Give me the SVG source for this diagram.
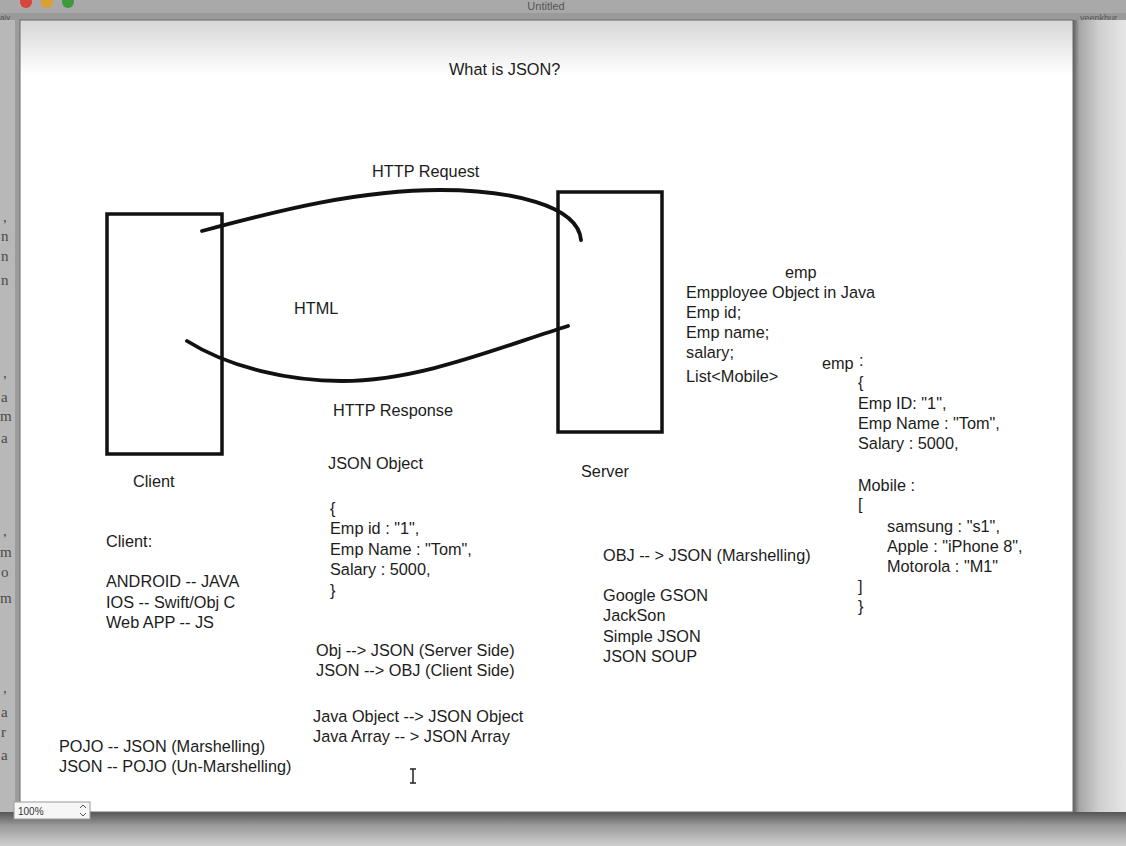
<svg xmlns="http://www.w3.org/2000/svg" width="1126" height="846" viewBox="0 0 1126 846">
  <defs>
    <linearGradient id="canvasTop" x1="0" y1="0" x2="0" y2="1">
      <stop offset="0" stop-color="#d6d6d6"/>
      <stop offset="1" stop-color="#ffffff"/>
    </linearGradient>
    <linearGradient id="rightPane" x1="0" y1="0" x2="1" y2="0">
      <stop offset="0" stop-color="#5e5e5e"/>
      <stop offset="0.12" stop-color="#a6a6a6"/>
      <stop offset="0.5" stop-color="#d0d0d0"/>
      <stop offset="1" stop-color="#e6e6e6"/>
    </linearGradient>
    <linearGradient id="bottomPane" x1="0" y1="0" x2="0" y2="1">
      <stop offset="0" stop-color="#555555"/>
      <stop offset="0.4" stop-color="#9a9a9a"/>
      <stop offset="1" stop-color="#cfcfcf"/>
    </linearGradient>
    <style>
      .t { font-family: "Liberation Sans", Arial, Helvetica, sans-serif; font-size: 16.3px; fill: #1c1c1c; }
      .side { font-family: "Liberation Serif", "DejaVu Serif", serif; font-size: 15px; fill: #4a4a4a; }
      .box { fill: #ffffff; stroke: #111111; stroke-width: 3.5; }
      .wire { fill: none; stroke: #111111; stroke-width: 3.8; stroke-linecap: round; }
    </style>
  </defs>

  <!-- window chrome -->
  <rect x="0" y="0" width="1126" height="846" fill="#a9a9a9"/>
  <rect x="0" y="13" width="1126" height="8" fill="#9a9a9a"/>
  <circle cx="26" cy="2" r="6" fill="#d8453c"/>
  <circle cx="47" cy="2" r="6" fill="#dba032"/>
  <circle cx="68" cy="2" r="6" fill="#3f9a3c"/>
  <text x="546" y="10" text-anchor="middle" font-family="Liberation Sans, Arial, sans-serif" font-size="11" fill="#555">Untitled</text>
  <text x="0" y="20" font-family="Liberation Sans, Arial, sans-serif" font-size="8" fill="#555">aly</text>
  <text x="1080" y="21" font-family="Liberation Sans, Arial, sans-serif" font-size="9" fill="#555">veenkhur</text>

  <!-- side panes -->
  <rect x="1073" y="20" width="53" height="826" fill="url(#rightPane)"/>
  <rect x="0" y="812" width="1126" height="34" fill="url(#bottomPane)"/>
  <rect x="0" y="20" width="20" height="792" fill="#b8b8b8"/>
  <rect x="15" y="20" width="5" height="792" fill="#9c9c9c"/>
  <g class="side">
    <text x="3" y="222">,</text><text x="1" y="241">n</text><text x="1" y="261">n</text><text x="1" y="285">n</text>
    <text x="3" y="378">,</text><text x="1" y="402">a</text><text x="0" y="421">m</text><text x="1" y="443">a</text>
    <text x="3" y="536">,</text><text x="0" y="557">m</text><text x="1" y="577">o</text><text x="0" y="603">m</text>
    <text x="3" y="693">,</text><text x="1" y="717">a</text><text x="1" y="737">r</text><text x="1" y="760">a</text>
  </g>

  <!-- drawing canvas -->
  <rect x="20" y="20" width="1053" height="792" fill="#ffffff"/>
  <rect x="20" y="20" width="1053" height="55" fill="url(#canvasTop)"/>
  <rect x="20" y="20" width="1053" height="792" fill="none" stroke="#6a6a6a" stroke-width="1"/>

  <!-- zoom control -->
  <rect x="14" y="802" width="76" height="17" fill="#f6f6f6" stroke="#9a9a9a" stroke-width="1"/>
  <text x="18" y="815" font-family="Liberation Sans, Arial, sans-serif" font-size="10" fill="#333">100%</text>
  <path d="M80,808 l3,-3 l3,3 M80,813 l3,3 l3,-3" fill="none" stroke="#555" stroke-width="1"/>

  <text class="t" x="449" y="75" font-size="16">What is JSON?</text>

  <!-- nodes -->
  <g id="client">
    <rect class="box" x="107" y="214" width="115" height="240"/>
    <text class="t" x="133" y="487">Client</text>
  </g>
  <g id="server">
    <rect class="box" x="558" y="192" width="104" height="240"/>
    <text class="t" x="581" y="477">Server</text>
  </g>

  <!-- connectors -->
  <g id="connectors">
    <path class="wire" d="M202,231 C280,210 360,190 440,190 C510,190 578,205 581,240"/>
    <path class="wire" d="M187,341 C230,368 290,381 342,381 C420,381 500,347 568,326"/>
    <text class="t" x="372" y="177">HTTP Request</text>
    <text class="t" x="294" y="314">HTML</text>
    <text class="t" x="333" y="416">HTTP Response</text>
  </g>

  <!-- JSON object sent in the response -->
  <g id="json-object">
    <text class="t" x="328" y="469">JSON Object</text>
    <text class="t" x="330" y="514">{</text>
    <text class="t" x="330" y="534">Emp id : "1",</text>
    <text class="t" x="330" y="555">Emp Name : "Tom",</text>
    <text class="t" x="330" y="575">Salary : 5000,</text>
    <text class="t" x="330" y="596">}</text>
  </g>

  <g id="client-platforms">
    <text class="t" x="106" y="547">Client:</text>
    <text class="t" x="106" y="587">ANDROID -- JAVA</text>
    <text class="t" x="106" y="608">IOS -- Swift/Obj C</text>
    <text class="t" x="106" y="628">Web APP -- JS</text>
  </g>

  <g id="conversions">
    <text class="t" x="316" y="656">Obj --&gt; JSON (Server Side)</text>
    <text class="t" x="316" y="676">JSON --&gt; OBJ (Client Side)</text>
    <text class="t" x="313" y="722">Java Object --&gt; JSON Object</text>
    <text class="t" x="313" y="742">Java Array -- &gt; JSON Array</text>
  </g>

  <g id="pojo">
    <text class="t" x="59" y="752">POJO -- JSON (Marshelling)</text>
    <text class="t" x="59" y="772">JSON -- POJO (Un-Marshelling)</text>
  </g>

  <g id="libraries">
    <text class="t" x="603" y="561">OBJ -- &gt; JSON (Marshelling)</text>
    <text class="t" x="603" y="601">Google GSON</text>
    <text class="t" x="603" y="621">JackSon</text>
    <text class="t" x="603" y="642">Simple JSON</text>
    <text class="t" x="603" y="662">JSON SOUP</text>
  </g>

  <g id="java-object">
    <text class="t" x="785" y="278">emp</text>
    <text class="t" x="686" y="298">Empployee Object in Java</text>
    <text class="t" x="686" y="318">Emp id;</text>
    <text class="t" x="686" y="338">Emp name;</text>
    <text class="t" x="686" y="358">salary;</text>
    <text class="t" x="686" y="382">List&lt;Mobile&gt;</text>
  </g>

  <g id="emp-json">
    <text class="t" x="822" y="369">emp</text>
    <text class="t" x="859" y="366" font-size="12">:</text>
    <text class="t" x="858" y="388">{</text>
    <text class="t" x="858" y="409">Emp ID: "1",</text>
    <text class="t" x="858" y="429">Emp Name : "Tom",</text>
    <text class="t" x="858" y="449">Salary : 5000,</text>
    <text class="t" x="858" y="491">Mobile :</text>
    <text class="t" x="858" y="510">[</text>
    <text class="t" x="887" y="532">samsung : "s1",</text>
    <text class="t" x="887" y="552">Apple : "iPhone 8",</text>
    <text class="t" x="887" y="572">Motorola : "M1"</text>
    <text class="t" x="858" y="592">]</text>
    <text class="t" x="858" y="612">}</text>
  </g>

  <!-- text cursor -->
  <path d="M410,769 h6 M413,769 v14 M410,783 h6" fill="none" stroke="#222" stroke-width="1.5"/>
</svg>
